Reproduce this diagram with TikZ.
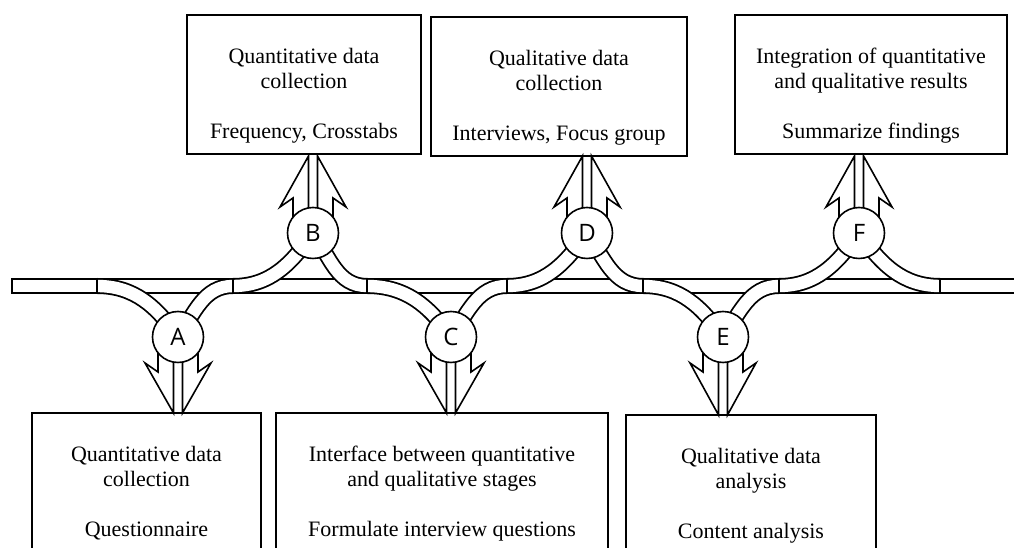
\documentclass[tikz,border=0pt]{standalone}
\usepackage{fontspec}
\setmainfont{Liberation Serif}
\newfontfamily\circfont{Open Sans}
\usetikzlibrary{positioning}

\begin{document}
\begin{tikzpicture}[x=1pt,y=1pt,line width=1.6pt,
  box/.style={draw,rectangle,minimum height=139pt,inner sep=0pt},
  txt/.style={align=center,inner sep=0pt,font=\fontsize{22}{25}\selectfont},
  junc/.style={draw,circle,fill=white,minimum size=51pt,inner sep=0pt,font=\circfont\fontsize{24}{24}\selectfont},
  band/.style={double,double distance=12.4pt,line width=1.8pt}]
\clip (0,0) rectangle (1014,548);
% boxes on top
\node[box,minimum width=234pt] (qb) at (304,463.5) {};
\node[txt,below=33pt of qb.north] (tb) {Quantitative data\\collection\\[25pt]Frequency, Crosstabs};
\node[box,minimum width=256pt] (qd) at (559,461.5) {};
\node[txt,below=33pt of qd.north] (td) {Qualitative data\\collection\\[25pt]Interviews, Focus group};
\node[box,minimum width=272pt] (qf) at (871,463.5) {};
\node[txt,below=33pt of qf.north] (tf) {Integration of quantitative\\and qualitative results\\[25pt]Summarize findings};
% boxes below
\node[box,minimum width=229pt] (qa) at (146.5,65.5) {};
\node[txt,below=33pt of qa.north] (ta) {Quantitative data\\collection\\[25pt]Questionnaire};
\node[box,minimum width=332pt] (qc) at (442,65.5) {};
\node[txt,below=33pt of qc.north] (tc) {Interface between quantitative\\and qualitative stages\\[25pt]Formulate interview questions};
\node[box,minimum width=250pt] (qe) at (751,63.5) {};
\node[txt,below=33pt of qe.north] (te) {Qualitative data\\analysis\\[25pt]Content analysis};
% junctions and band joints
\coordinate (ja) at (178,211);
\coordinate (jb) at (313,315);
\coordinate (jc) at (451,211);
\coordinate (jd) at (587,315);
\coordinate (je) at (723,211);
\coordinate (jf) at (859,315);
\coordinate (d0) at (12,262);
\coordinate (d1) at (97,262);
\coordinate (d2) at (233,262);
\coordinate (d3) at (367,262);
\coordinate (d4) at (507,262);
\coordinate (d5) at (643,262);
\coordinate (d6) at (779,262);
\coordinate (d7) at (940,262);
\coordinate (dend) at (1030,262);
\draw[band] (d0) -- (dend);
\draw[band] (d1) to[out=0,in=125] (ja);
\draw[band] (d2) to[out=180,in=55] (ja);
\draw[band] (d2) to[out=0,in=-125] (jb);
\draw[band] (d3) to[out=180,in=-55] (jb);
\draw[band] (d3) to[out=0,in=125] (jc);
\draw[band] (d4) to[out=180,in=55] (jc);
\draw[band] (d4) to[out=0,in=-125] (jd);
\draw[band] (d5) to[out=180,in=-55] (jd);
\draw[band] (d5) to[out=0,in=125] (je);
\draw[band] (d6) to[out=180,in=55] (je);
\draw[band] (d6) to[out=0,in=-125] (jf);
\draw[band] (d7) to[out=180,in=-55] (jf);
\foreach \d in {d0,d1,d2,d3,d4,d5,d6,d7}
  \draw[line width=1.8pt] (\d) ++(0,-8) -- ++(0,16);
% split arrows
\draw (ja) ++(-4.5,0) -- ++(0,-76) -- ++(-28.5,50) -- ++(13,-9) -- ++(0,35)
      (ja) ++(4.5,0) -- ++(0,-76) -- ++(28.5,50) -- ++(-13,-9) -- ++(0,35);
\draw (jb) ++(-4.5,0) -- ++(0,77) -- ++(-28.5,-51) -- ++(13,9) -- ++(0,-35)
      (jb) ++(4.5,0) -- ++(0,77) -- ++(28.5,-51) -- ++(-13,9) -- ++(0,-35);
\draw (jc) ++(-4.5,0) -- ++(0,-76) -- ++(-28.5,50) -- ++(13,-9) -- ++(0,35)
      (jc) ++(4.5,0) -- ++(0,-76) -- ++(28.5,50) -- ++(-13,-9) -- ++(0,35);
\draw (jd) ++(-4.5,0) -- ++(0,77) -- ++(-28.5,-51) -- ++(13,9) -- ++(0,-35)
      (jd) ++(4.5,0) -- ++(0,77) -- ++(28.5,-51) -- ++(-13,9) -- ++(0,-35);
\draw (je) ++(-4.5,0) -- ++(0,-78) -- ++(-28.5,52) -- ++(13,-9) -- ++(0,35)
      (je) ++(4.5,0) -- ++(0,-78) -- ++(28.5,52) -- ++(-13,-9) -- ++(0,35);
\draw (jf) ++(-4.5,0) -- ++(0,77) -- ++(-28.5,-51) -- ++(13,9) -- ++(0,-35)
      (jf) ++(4.5,0) -- ++(0,77) -- ++(28.5,-51) -- ++(-13,9) -- ++(0,-35);
% junction circles
\node[junc] (A) at (ja) {A};
\node[junc] (B) at (jb) {B};
\node[junc] (C) at (jc) {C};
\node[junc] (D) at (jd) {D};
\node[junc] (E) at (je) {E};
\node[junc] (F) at (jf) {F};
\end{tikzpicture}
\end{document}
